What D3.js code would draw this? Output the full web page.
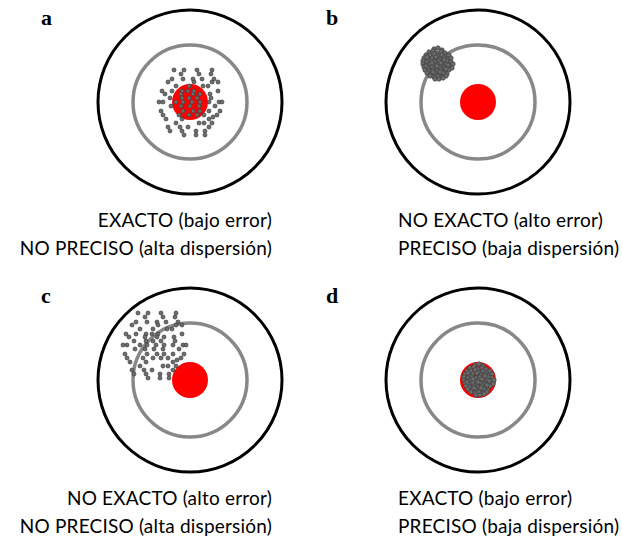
<!DOCTYPE html>
<html>
<head>
<meta charset="utf-8">
<script src="https://cdn.jsdelivr.net/npm/d3@7/dist/d3.min.js"></script>
<style>
  body { margin: 0; background: #fff; }
  svg { display: block; }
</style>
</head>
<body>
<div id="chart"></div>
<script>
// panels and captions
var panelLabels = ["a", "b", "c", "d"];
var captionLine1 = ["EXACTO (bajo error)", "NO EXACTO (alto error)", "NO EXACTO (alto error)", "EXACTO (bajo error)"];
var captionLine2 = ["NO PRECISO (alta dispersión)", "PRECISO (baja dispersión)", "NO PRECISO (alta dispersión)", "PRECISO (baja dispersión)"];

// rings of the target (outer, middle, bullseye), in target units
var ringRadius = [92, 57, 18];

// where the shots land on average (error), relative to the target centre
var errorX = [0, -40, -36, 1];
var errorY = [0, -38, -35, 0];
// which scatter each panel uses
var scatterType = ["spread", "dense", "spread", "dense"];

// wide scatter (high dispersion), offsets from mean
var spreadX = [-16,-6,7,22, -9,9,21, -18,-7,3,12,24, -22,4,22,28, -14,-1,13,18,
               -28,-18,-8,-2,4,28, -25,-9,3,10,20, -20,-8,-1,7,21,
               -31,-27,-14,-7,2,10,19,29,32, -19,-9,0,9,25, -29,-7,3,10,19,30,
               -27,-11,-1,7,14,27, -24,-8,19,23, -14,9,14,22, -22,-10,-2,19,
               -20,-8,6,15, -6,6,15];
var spreadY = [-32,-32,-32,-32, -28,-28,-28, -23,-23,-23,-23,-23, -20,-20,-20,-20, -16,-16,-16,-16,
               -11,-11,-11,-11,-11,-11, -8,-8,-8,-8,-8, -4,-4,-4,-4,-4,
               0,0,0,0,0,0,0,0,0, 4,4,4,4,4, 9,9,9,9,9,9,
               13,13,13,13,13,13, 17,17,17,15, 21,21,21,21, 25,25,25,25,
               29,29,29,29, 33,33,33];

// tight scatter (low dispersion), offsets from mean
var denseX = [-4,0,4,
              -9,-5,-1,3,7,
              -12,-8,-4,0,4,8,11,
              -14,-10,-6,-2,2,6,10,13,
              -15,-11,-7,-3,1,5,9,13,
              -15,-12,-8,-4,0,4,8,12,15,
              -14,-10,-6,-2,2,6,10,14,
              -13,-9,-5,-1,3,7,11,
              -11,-7,-3,1,5,9,
              -8,-4,0,4,8,
              -3,1,5,
              -11,-2,6,-6,3,10,-12,-1,8,-5,2];
var denseY = [-15,-16,-14,
              -12,-13,-11,-12,-11,
              -9,-9,-10,-8,-9,-8,-9,
              -6,-5,-6,-6,-5,-6,-5,-6,
              -3,-2,-3,-2,-3,-2,-3,-2,
              0,1,0,1,0,1,0,1,0,
              3,4,3,4,3,4,3,4,
              6,7,6,7,6,7,6,
              9,10,9,10,9,10,
              12,13,12,13,12,
              15,15,14,
              -7,-7,-4,-1,-1,1,2,2,5,8,8];

var width = 622, height = 538;
var centerX = [190, 478, 190, 478];
var centerY = [102, 102, 380, 380];

var svg = d3.select("#chart").append("svg").attr("width", width).attr("height", height);

function drawPanel(i) {

    var x = d3.scaleLinear().domain([-100, 100]).range([centerX[i] - 100, centerX[i] + 100]);
    var y = d3.scaleLinear().domain([-100, 100]).range([centerY[i] - 100, centerY[i] + 100]);
    var r = d3.scaleLinear().domain([0, 100]).range([0, 100]);

    var g = svg.append("g");

    g.append("circle").attr("cx", x(0)).attr("cy", y(0)).attr("r", r(ringRadius[0]))
        .attr("fill", "none").attr("stroke", "#000").attr("stroke-width", 3);
    g.append("circle").attr("cx", x(0)).attr("cy", y(0)).attr("r", r(ringRadius[1]))
        .attr("fill", "none").attr("stroke", "#888").attr("stroke-width", 3.5);
    g.append("circle").attr("cx", x(0)).attr("cy", y(0)).attr("r", r(ringRadius[2]))
        .attr("fill", "#ff0000");

    var dx = scatterType[i] == "spread" ? spreadX : denseX;
    var dy = scatterType[i] == "spread" ? spreadY : denseY;
    var shots = dx.map(function(d, k) { return {x: d + errorX[i], y: dy[k] + errorY[i]}; });

    g.selectAll(".shot").data(shots).enter().append("circle")
        .attr("class", "shot")
        .attr("cx", function(d) { return x(d.x); })
        .attr("cy", function(d) { return y(d.y); })
        .attr("r", scatterType[i] == "spread" ? 2 : 2.2)
        .attr("fill", "#6e6e6e").attr("stroke", "#3c3c3c").attr("stroke-width", 0.7);

    // panel letter
    var left = i % 2 == 0;
    g.append("text").attr("x", left ? 41 : 326).attr("y", centerY[i] - 77)
        .attr("font-family", "Liberation Serif").attr("font-weight", "bold").attr("font-size", 22)
        .text(panelLabels[i]);

    // captions
    var tx = left ? 272 : 398;
    var anchor = left ? "end" : "start";
    [captionLine1[i], captionLine2[i]].forEach(function(t, k) {
        g.append("text").attr("x", tx).attr("y", centerY[i] + 125 + k * 28)
            .attr("text-anchor", anchor)
            .attr("font-family", "Lato").attr("font-size", 19).attr("letter-spacing", 0.2)
            .attr("fill", "#000")
            .text(t);
    });
}

for (var i = 0; i < panelLabels.length; i++) {
    drawPanel(i);
}
</script>
</body>
</html>
